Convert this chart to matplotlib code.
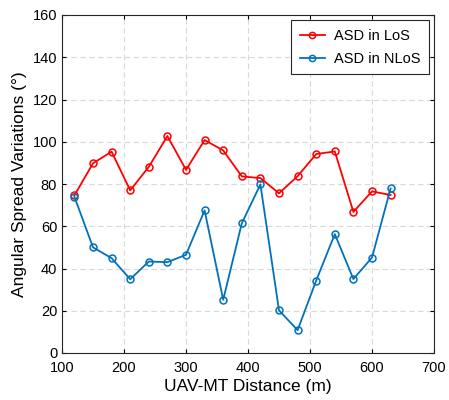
import matplotlib
matplotlib.use("Agg")
import matplotlib.pyplot as plt

plt.rcParams["font.family"] = ["Liberation Sans", "DejaVu Sans"]

# UAV-MT distance (m) and angular spread (deg)
distance = [120, 150, 180, 210, 240, 270, 300, 330, 360, 390,
            420, 450, 480, 510, 540, 570, 600, 630]
asd_los = [74.6, 89.8, 95.3, 77.0, 88.1, 102.7, 86.7, 100.8, 95.9, 83.6,
           82.8, 75.6, 83.7, 94.2, 95.4, 66.8, 76.5, 74.8]
asd_nlos = [74.0, 50.0, 44.9, 34.9, 43.3, 43.0, 46.5, 67.5, 25.2, 61.4,
            79.8, 20.2, 10.8, 34.3, 56.3, 35.0, 45.2, 77.9]

C_LOS = "#FF0000"
C_NLOS = "#0072BD"

fig = plt.figure(figsize=(4.49, 4.0), dpi=100)
ax = fig.add_axes([62 / 449, 47 / 400, 372 / 449, 338 / 400])

ax.plot(distance, asd_los, "-o", color=C_LOS, lw=1.3, ms=5, mfc="none",
        mew=1.1, label="ASD in LoS", zorder=3)
ax.plot(distance, asd_nlos, "-o", color=C_NLOS, lw=1.3, ms=5, mfc="none",
        mew=1.1, label="ASD in NLoS", zorder=3)

ax.set_xlim(100, 700)
ax.set_ylim(0, 160)
ax.set_xticks(range(100, 701, 100))
ax.set_yticks(range(0, 161, 20))
ax.tick_params(direction="in", labelsize=10.5, length=3, top=True, right=True,
               labeltop=False, labelright=False)
ax.tick_params(axis="x", pad=6)
ax.grid(True, ls=(0, (5, 3)), color="#D9D9D9", lw=0.8, zorder=0)
for s in ax.spines.values():
    s.set_color("#262626")
    s.set_linewidth(0.8)

ax.set_xlabel("UAV-MT Distance (m)", fontsize=12.5, labelpad=3)
ax.set_ylabel("Angular Spread Variations (°)", fontsize=12.5, labelpad=4)

leg = ax.legend(loc="upper right", fontsize=10.5, fancybox=False,
                edgecolor="#262626", framealpha=1, handlelength=1.7,
                handletextpad=0.6, borderaxespad=0.35, labelspacing=0.6,
                borderpad=0.6, markerscale=0.9)
leg.get_frame().set_linewidth(0.8)

fig.savefig("out.png", dpi=100)
